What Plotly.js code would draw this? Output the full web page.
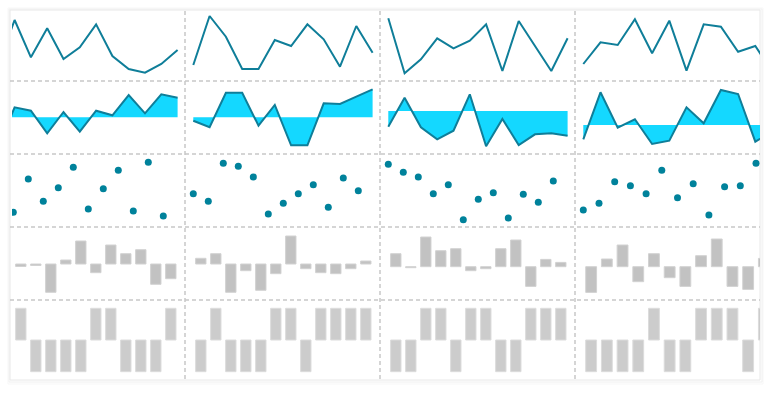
<!DOCTYPE html>
<html>
<head>
<meta charset="utf-8">
<script src="https://cdn.plot.ly/plotly-3.0.1.min.js"></script>
<style>html,body{margin:0;padding:0;background:#fff;}#chart{width:770px;height:395px;}</style>
</head>
<body>
<div id="chart"></div>
<script>
// ---- data (one array per cell) ----
const idx = [0,1,2,3,4,5,6,7,8,9,10,11];

const lineA = [14, 60, 22.7, 51.7, 21, 32.7, 55.7, 24, 11, 7.3, 16, 30];
const lineB = [15, 64, 43.3, 11, 11, 40, 34, 55.7, 40.7, 13.3, 54, 27.3];
const lineC = [61.7, 6.7, 20.7, 41.7, 31.7, 39.3, 55.7, 9, 59, 34.3, 9, 41.7];
const lineD = [16, 37.7, 35, 60.7, 26.7, 59.3, 9.3, 55.7, 53.3, 28.3, 34, 8];

const areaA = [-30, 10, 6.6, -16, 5.3, -14.4, 6.6, 2, 22.3, 4, 23, 19.6];
const areaB = [-3.4, -10, 24.6, 24.6, -8.4, 12.3, -28, -28, 14, 13.3, 20.6, 28];
const areaC = [-15.7, 13.3, -16.3, -28.3, -19.7, 16.7, -35.3, -8, -34, -23.3, -22.3, -24.7];
const areaD = [-14.3, 32.7, -2.7, 5.7, -19, -15.7, 17.7, 1.7, 35, 31, -16.7, -6.2];

const dotsA = [32, 14.7, 48, 25.7, 39.3, 59.7, 18, 38.3, 56.7, 16, 64.7, 11];
const dotsB = [33.3, 25.7, 63.7, 60.7, 50, 13, 23.7, 33.3, 42.3, 19.7, 49, 36.3];
const dotsC = [62.7, 54.7, 50, 33.3, 42.3, 7.3, 27.7, 34.3, 9, 32.7, 24.7, 46];
const dotsD = [17, 23.7, 45.3, 41.3, 33.3, 56.7, 29.3, 43.3, 12, 40.3, 41.3, 63.7];

const colA = [-5, -2.5, -1.5, -28.3, 4, 23, -8.7, 19, 10.3, 14.3, -20.3, -14.7];
const colB = [5.7, 10.3, -28.3, -6.7, -26.3, -9.7, 28, -4.7, -8.7, -9.7, -4.7, 3];
const colC = [13, -1, 29.7, 16, 18, -4, -2, 18, 26.7, -19.7, 7.3, 4.3];
const colD = [-25.7, 7.7, 21.7, -15, 13, -11, -19.7, 11, 27.7, -19.7, -22.7, 8.3];

const winA = [1, 1, -1, -1, -1, -1, 1, 1, -1, -1, -1, 1];
const winB = [-1, 1, -1, -1, -1, 1, 1, -1, 1, 1, 1, 1];
const winC = [-1, -1, 1, 1, -1, 1, 1, -1, -1, 1, 1, 1];
const winD = [-1, -1, -1, -1, 1, -1, -1, 1, 1, 1, -1, 1];

const lines = [lineA, lineB, lineC, lineD];
const areas = [areaA, areaB, areaC, areaD];
const dots  = [dotsA, dotsB, dotsC, dotsD];
const cols  = [colA, colB, colC, colD];
const wins  = [winA, winB, winC, winD];

// ---- layout geometry (pixels) ----
const W = 770, H = 395;
const px = x => x / W, py = y => 1 - y / H;
const colGeo = [
  {L: 12,  R: 184, x0: -1.7,  dl: 16.3, ds: 15},
  {L: 186, R: 379, x0: 193.3, dl: 16.3, ds: 15},
  {L: 381, R: 574, x0: 388.3, dl: 16.3, ds: 15},
  {L: 576, R: 760, x0: 583.3, dl: 17.2, ds: 15.7}
];
const rowGeo = [[10, 80], [81, 154], [154, 227], [227, 300], [300, 380]];
const areaBase = [117.3, 117.3, 111, 125];
const barZero = [264, 264, 266.7, 266.7];

const LINE = '#0f7e99', FILL = '#14d8ff', DOT = '#00829b';

const traces = [];
const layout = {
  width: W, height: H,
  margin: {l: 0, r: 0, t: 0, b: 0},
  paper_bgcolor: '#ffffff', plot_bgcolor: 'rgba(0,0,0,0)',
  showlegend: false,
  bargap: 0,
  shapes: []
};

function axName(n) { return n === 1 ? '' : String(n); }

for (let r = 0; r < 5; r++) {
  for (let c = 0; c < 4; c++) {
    const n = r * 4 + c + 1, s = axName(n);
    const g = colGeo[c], [T, B] = rowGeo[r];
    let xr, yr;
    if (r < 2) {
      xr = [(g.L - g.x0) / g.dl, (g.R - g.x0) / g.dl];
    } else if (r === 2) {
      xr = [(g.L - g.x0) / g.ds, (g.R - g.x0) / g.ds];
    } else {
      xr = [(g.L - g.x0) / g.ds - 0.5, (g.R - g.x0) / g.ds - 0.5];
    }
    if (r === 0) yr = [80 - B, 80 - T];
    else if (r === 1) yr = [areaBase[c] - B, areaBase[c] - T];
    else if (r === 2) yr = [227 - B, 227 - T];
    else if (r === 3) yr = [barZero[c] - B, barZero[c] - T];
    else yr = [(340 - B) / 31.7, (340 - T) / 31.7];

    layout['xaxis' + s] = {domain: [px(g.L), px(g.R)], range: xr, visible: false, fixedrange: true, anchor: 'y' + s};
    layout['yaxis' + s] = {domain: [py(B), py(T)], range: yr, visible: false, fixedrange: true, anchor: 'x' + s};

    const base = {xaxis: 'x' + s, yaxis: 'y' + s, hoverinfo: 'skip', x: idx};
    if (r === 0) {
      traces.push(Object.assign({}, base, {type: 'scatter', mode: 'lines', y: lines[c], line: {color: LINE, width: 2}}));
    } else if (r === 1) {
      traces.push(Object.assign({}, base, {type: 'scatter', mode: 'lines', y: areas[c], fill: 'tozeroy', fillcolor: FILL, line: {color: LINE, width: 2}}));
    } else if (r === 2) {
      traces.push(Object.assign({}, base, {type: 'scatter', mode: 'markers', y: dots[c], marker: {color: DOT, size: 7}}));
    } else if (r === 3) {
      traces.push(Object.assign({}, base, {type: 'bar', y: cols[c], width: 0.69, marker: {color: '#c2c2c2', line: {color: '#d2d2d2', width: 1}}}));
    } else {
      traces.push(Object.assign({}, base, {type: 'bar', y: wins[c], width: 0.69, marker: {color: '#cccccc', line: {color: '#dcdcdc', width: 1}}}));
    }
  }
}

// card with soft shadow
const rect = (x0, y0, x1, y1, lc, fc) => ({type: 'rect', xref: 'paper', yref: 'paper', layer: 'below',
  x0: px(x0), x1: px(x1), y0: py(y1), y1: py(y0), line: {color: lc, width: 1}, fillcolor: fc});
layout.shapes.push(rect(8, 8, 763, 384, '#f7f7f7', 'rgba(0,0,0,0)'));
layout.shapes.push(rect(9, 9, 762, 382, '#f0f0f0', 'rgba(0,0,0,0)'));
layout.shapes.push(rect(10, 10, 760, 380, '#e8e8e8', '#ffffff'));

// dashed grid lines
const dash = {color: '#c8c8c8', width: 1.5, dash: '4px,3px'};
[81, 154, 227, 300].forEach(y => layout.shapes.push({type: 'line', xref: 'paper', yref: 'paper', layer: 'below',
  x0: px(10), x1: px(760), y0: py(y), y1: py(y), line: dash}));
[185, 380, 575].forEach(x => layout.shapes.push({type: 'line', xref: 'paper', yref: 'paper', layer: 'below',
  x0: px(x), x1: px(x), y0: py(11), y1: py(380), line: dash}));

Plotly.newPlot('chart', traces, layout, {staticPlot: true, displayModeBar: false});
</script>
</body>
</html>
